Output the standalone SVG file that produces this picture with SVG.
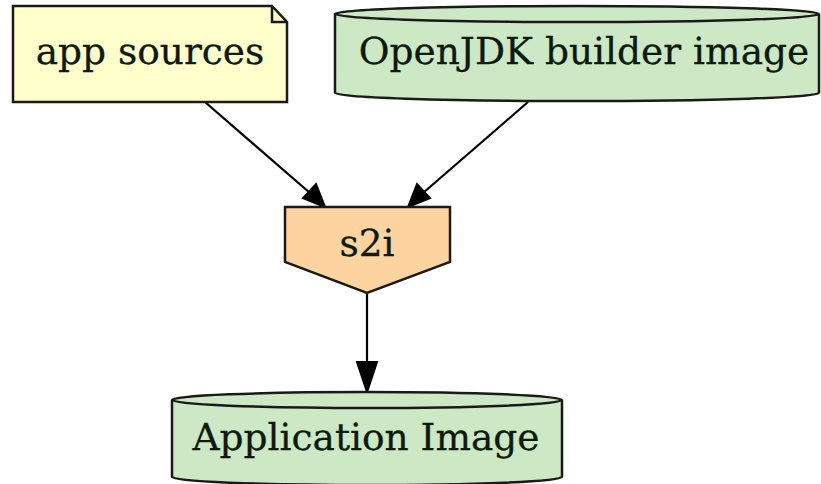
<svg xmlns="http://www.w3.org/2000/svg" width="821" height="484" viewBox="0 0 821 484">
<defs>
<style>
.shape{stroke:#1a1a1a;stroke-width:2.5;stroke-linejoin:miter}
.note{fill:#ffffcc}
.cyl{fill:#cce8c4}
.proc{fill:#fdd4a0}
.lbl{font-family:"DejaVu Serif",serif;font-size:37.5px;fill:#0d1a0d;text-anchor:middle;stroke:#0d1a0d;stroke-width:0.3}
.edge{stroke:#000;stroke-width:2.2;fill:none}
</style>
</defs>
<rect width="821" height="484" fill="#fff"/>
<g id="connectors">
<line class="edge" x1="205" y1="102" x2="310" y2="193"/>
<path d="M325,207 L303,198 L316,184 z" fill="#000" stroke="#000" stroke-width="2"/>
<line class="edge" x1="528" y1="102" x2="423" y2="193"/>
<path d="M408,207 L417,184 L430,198 z" fill="#000" stroke="#000" stroke-width="2"/>
<line class="edge" x1="367" y1="293" x2="367" y2="366"/>
<path d="M367,392 L357,362 L377,362 z" fill="#000" stroke="#000" stroke-width="2"/>
</g>
<g id="app-sources">
<path class="shape note" d="M13,6 L272,6 L287,22 L287,102 L13,102 z"/>
<path class="shape" fill="none" d="M272,6 L272,22 L287,22"/>
<text class="lbl" x="150" y="64">app sources</text>
</g>
<g id="openjdk">
<path class="shape cyl" d="M335,14 A242,8 0 0 1 819,14 L819,93 A242,8 0 0 1 335,93 z"/>
<path class="shape" fill="none" d="M335,14 A242,8 0 0 0 819,14"/>
<text class="lbl" x="584" y="64">OpenJDK builder image</text>
</g>
<g id="s2i">
<path class="shape proc" d="M285,207 L450,207 L450,262 L367,293 L285,262 z"/>
<text class="lbl" x="367" y="256">s2i</text>
</g>
<g id="application-image">
<path class="shape cyl" d="M172,400 A195,8 0 0 1 562,400 L562,477 A195,8 0 0 1 172,477 z"/>
<path class="shape" fill="none" d="M172,400 A195,8 0 0 0 562,400"/>
<text class="lbl" x="366" y="450">Application Image</text>
</g>
</svg>
